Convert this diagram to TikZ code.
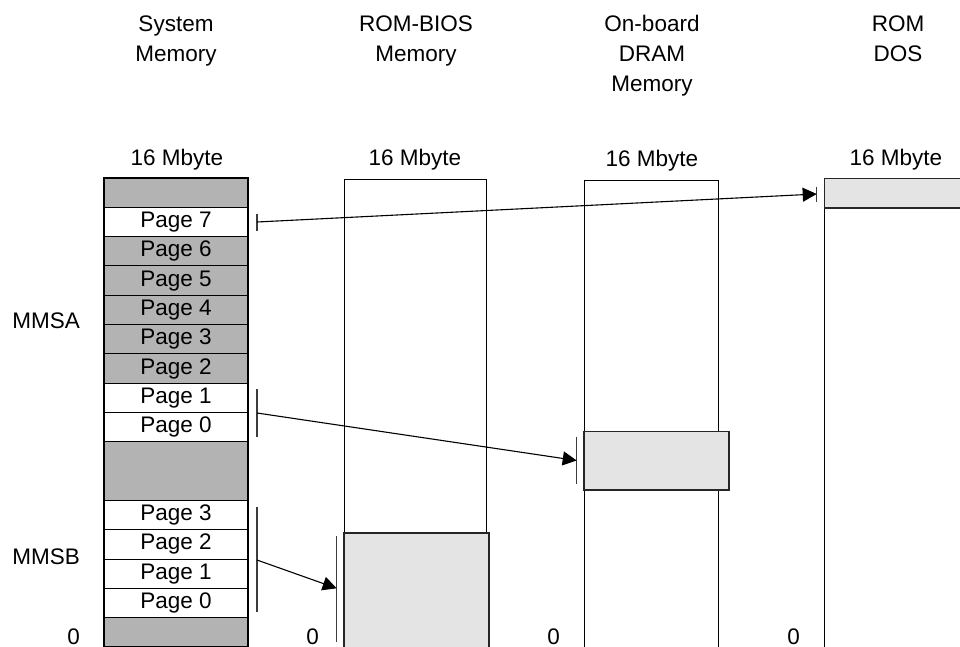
\documentclass[tikz,border=0pt]{standalone}
\usepackage{fontspec}
\setmainfont{Liberation Sans}
\usetikzlibrary{arrows.meta}
\definecolor{dg}{RGB}{179,179,179}
\definecolor{lg}{RGB}{228,228,228}
\definecolor{barc}{RGB}{60,60,60}
\begin{document}
\begin{tikzpicture}[x=1pt,y=-1pt,
  every node/.style={font=\fontsize{22.5}{30}\selectfont},
  lbl/.style={inner sep=0pt, anchor=base},
  lble/.style={inner sep=0pt, anchor=base east},
  memrow/.style={draw=black, line width=1.1pt, minimum width=144pt, minimum height=29.3125pt, inner sep=0pt, outer sep=0pt},
  colbox/.style={draw=black, line width=1pt},
  hibox/.style={draw=black!85, line width=1.1pt, fill=lg},
  bar/.style={draw=barc, line width=1.3pt},
  conn/.style={draw=black, line width=1.1pt, -{Triangle[length=14pt,width=14pt]}}
]
\clip (0,0) rectangle (960,647);
\fill[white] (0,0) rectangle (960,647);
\def\rh{29.3125}
% headers
\node[lbl] (h1a) at (176,32) {System};
\node[lbl] (h1b) at (176,62) {Memory};
\node[lbl] (h2a) at (416,32) {ROM-BIOS};
\node[lbl] (h2b) at (416,62) {Memory};
\node[lbl] (h3a) at (652,32) {On-board};
\node[lbl] (h3b) at (652,62) {DRAM};
\node[lbl] (h3c) at (652,92) {Memory};
\node[lbl] (h4a) at (898,32) {ROM};
\node[lbl] (h4b) at (898,62) {DOS};
% size labels
\node[lbl] (m1) at (177,165) {16 Mbyte};
\node[lbl] (m2) at (415,165) {16 Mbyte};
\node[lbl] (m3) at (652,167) {16 Mbyte};
\node[lbl] (m4) at (896,165) {16 Mbyte};
% side labels
\node[lble] (mmsa) at (80,328) {MMSA};
\node[lble] (mmsb) at (80,564) {MMSB};
\node[lble] (z1) at (80,644) {0};
\node[lble] (z2) at (319,644) {0};
\node[lble] (z3) at (560,644) {0};
\node[lble] (z4) at (800,644) {0};
% system memory rows
\foreach \i/\t/\c in {0//dg,1/Page 7/white,2/Page 6/dg,3/Page 5/dg,4/Page 4/dg,5/Page 3/dg,6/Page 2/dg,7/Page 1/white,8/Page 0/white,11/Page 3/white,12/Page 2/white,13/Page 1/white,14/Page 0/white,15//dg}
  \node[memrow, fill=\c] (sm\i) at (176,{178+(\i+0.5)*\rh}) {\t};
\node[memrow, fill=dg, minimum height=58.625pt] (sm9) at (176,{178+10*\rh}) {};
% ROM-BIOS column
\draw[colbox] (344,660) -- (344,180) -- (486,180) -- (486,660);
\draw[hibox] (344,660) rectangle (489,533);
% DRAM column
\draw[colbox] (584,660) -- (584,181) -- (718,181) -- (718,660);
\draw[hibox] (584,431.7) rectangle (729,490);
% ROM DOS column
\draw[colbox] (824.5,660) -- (824.5,178.3) -- (970,178.3);
\draw[hibox] (824.5,178.3) rectangle (970,208);
% connectors
\coordinate (s1) at (257,222);
\coordinate (t1) at (816.7,194);
\coordinate (s2) at (257,413);
\coordinate (t2) at (576.7,460.5);
\coordinate (s3) at (257,560);
\coordinate (t3) at (336.7,588.3);
\draw[bar] (257,214) -- (257,231);
\draw[bar] (816.7,186.7) -- (816.7,202);
\draw[bar] (257,389) -- (257,436.7);
\draw[bar] (576.7,437.3) -- (576.7,484.3);
\draw[bar] (257,506.7) -- (257,612.3);
\draw[bar] (336.7,536) -- (336.7,641.7);
\draw[conn] (s1) -- (t1);
\draw[conn] (s2) -- (t2);
\draw[conn] (s3) -- (t3);
\end{tikzpicture}
\end{document}
